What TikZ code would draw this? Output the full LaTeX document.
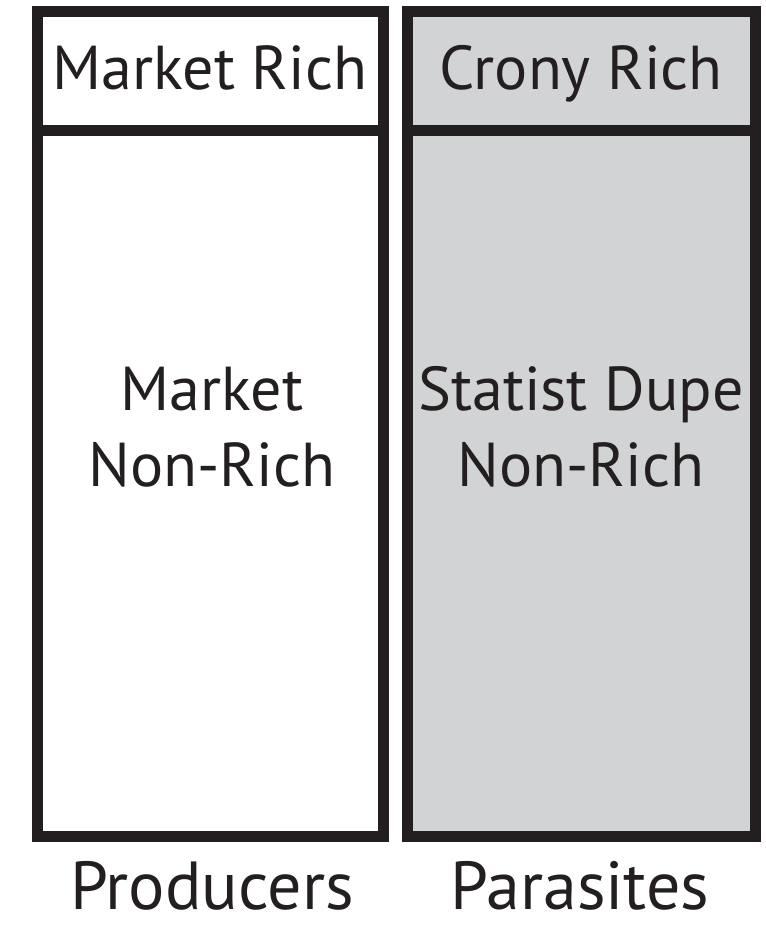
\documentclass[tikz,border=0pt]{standalone}
\usepackage{fontspec}
\setmainfont{PT Sans}
\definecolor{ink}{RGB}{35,31,32}
\definecolor{cronygray}{RGB}{209,211,212}
\tikzset{
  cell/.style={draw=ink, line width=11pt, rectangle, inner sep=0pt},
  celltext/.style={text=ink, anchor=base, inner sep=0pt, font=\fontsize{62}{74}\selectfont},
  caption/.style={text=ink, anchor=base, inner sep=0pt, font=\fontsize{68}{82}\selectfont}
}
\begin{document}
\begin{tikzpicture}[x=1pt,y=-1pt]
		\useasboundingbox (0,0) rectangle (765,928);
		% producers column
		\node[cell, fill=white, minimum width=346pt, minimum height=705pt] (mktpoor) at (210,483.5) {};
		\node[cell, fill=white, minimum width=346pt, minimum height=119pt] (mktrich) at (210,71.5) {};
		% parasites column
		\node[cell, fill=cronygray, minimum width=348pt, minimum height=705pt] (dupe) at (581,483.5) {};
		\node[cell, fill=cronygray, minimum width=348pt, minimum height=119pt] (crony) at (581,71.5) {};
		\node[celltext] (mktrichlbl) at (210,90) {Market Rich};
		\node[celltext] (cronylbl) at (581,90) {Crony Rich};
		\node[celltext] (mktlbl) at (212,410) {Market};
		\node[celltext] (nonrichA) at (212,486) {Non-Rich};
		\node[celltext] (dupelbl) at (581,410) {Statist Dupe};
		\node[celltext] (nonrichB) at (581,486) {Non-Rich};
		% column captions
		\node[caption] (prod) at (212,909) {Producers};
		\node[caption] (para) at (580,909) {Parasites};
\end{tikzpicture}
\end{document}
